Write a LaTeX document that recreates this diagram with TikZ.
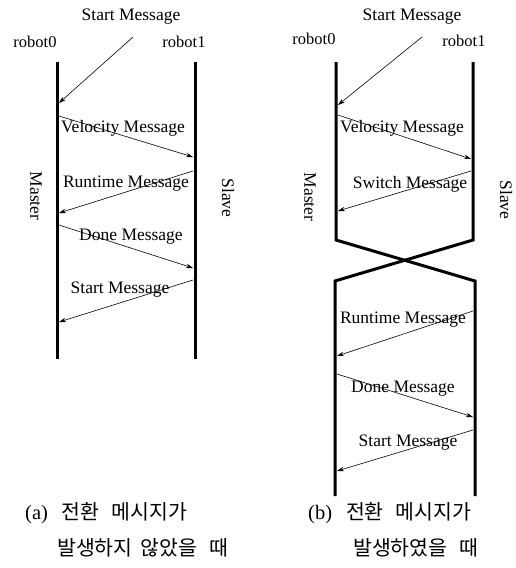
\documentclass[tikz,border=0pt]{standalone}
\usepackage{fontspec}
\setmainfont{Liberation Serif}
\newfontfamily\kr{Noto Sans CJK KR}
\usetikzlibrary{arrows.meta}
\begin{document}
\begin{tikzpicture}[x=1pt,y=-1pt,
  life/.style={line width=3pt, line join=miter},
  msg/.style={line width=0.6pt, -{Stealth[length=7pt,width=4.5pt]}},
  lbl/.style={font=\fontsize{17.5}{17.5}\selectfont, inner sep=0pt},
  small/.style={font=\fontsize{16.5}{16.5}\selectfont, inner sep=0pt},
  side/.style={lbl, rotate=-90},
  captxt/.style={font=\fontsize{20.5}{20.5}\selectfont, anchor=west, inner sep=0pt}]
\useasboundingbox (0,0) rectangle (515,568);

% ---------- (a) ----------
\coordinate (a0t) at (57,62);  \coordinate (a0b) at (57,359);
\coordinate (a1t) at (195,62); \coordinate (a1b) at (195,359);
\draw[life] (a0t) -- (a0b);
\draw[life] (a1t) -- (a1b);

\node[lbl] (aStartTop) at (131,17) {Start Message};
\node[small] (ar0) at (35,42) {robot0};
\node[small] (ar1) at (184,42) {robot1};
\node[side] (aMaster) at (36,196) {Master};
\node[side] (aSlave) at (228,198) {Slave};

\coordinate (aS0) at (133,37);
\coordinate (aS1) at (59,103);
\coordinate (aV0) at (59,116);  \coordinate (aV1) at (193,157);
\coordinate (aR0) at (193,171); \coordinate (aR1) at (59,213);
\coordinate (aD0) at (59,225);  \coordinate (aD1) at (193,268);
\coordinate (aT0) at (193,280); \coordinate (aT1) at (59,322);
\draw[msg] (aS0) -- (aS1);
\draw[msg] (aV0) -- (aV1);
\draw[msg] (aR0) -- (aR1);
\draw[msg] (aD0) -- (aD1);
\draw[msg] (aT0) -- (aT1);

\node[lbl] (aVel) at (123,128) {Velocity Message};
\node[lbl] (aRun) at (126,184) {Runtime Message};
\node[lbl] (aDone) at (131,237) {Done Message};
\node[lbl] (aStart) at (120,290) {Start Message};

% ---------- (b) ----------
\coordinate (b0t) at (336,62);  \coordinate (b0m) at (336,240);
\coordinate (b0x) at (475,281); \coordinate (b0b) at (475,496);
\coordinate (b1t) at (473,62);  \coordinate (b1m) at (473,240);
\coordinate (b1x) at (335,281); \coordinate (b1b) at (335,496);
\draw[life] (b0t) -- (b0m) -- (b0x) -- (b0b);
\draw[life] (b1t) -- (b1m) -- (b1x) -- (b1b);

\node[lbl] (bStartTop) at (412,17) {Start Message};
\node[small] (br0) at (314,39) {robot0};
\node[small] (br1) at (464,41) {robot1};
\node[side] (bMaster) at (310,197) {Master};
\node[side] (bSlave) at (506,200) {Slave};

\coordinate (bS0) at (422,37);  \coordinate (bS1) at (338,105);
\coordinate (bV0) at (338,115); \coordinate (bV1) at (471,159);
\coordinate (bW0) at (471,171); \coordinate (bW1) at (338,211);
\coordinate (bR0) at (473,311); \coordinate (bR1) at (337,356);
\coordinate (bD0) at (337,374); \coordinate (bD1) at (473,417);
\coordinate (bT0) at (473,430); \coordinate (bT1) at (337,471);
\draw[msg] (bS0) -- (bS1);
\draw[msg] (bV0) -- (bV1);
\draw[msg] (bW0) -- (bW1);
\draw[msg] (bR0) -- (bR1);
\draw[msg] (bD0) -- (bD1);
\draw[msg] (bT0) -- (bT1);

\node[lbl] (bVel) at (402,128) {Velocity Message};
\node[lbl] (bSw) at (410,184) {Switch Message};
\node[lbl] (bRun) at (403,320) {Runtime Message};
\node[lbl] (bDone) at (403,389) {Done Message};
\node[lbl] (bStart) at (408,443) {Start Message};

% ---------- captions ----------
\node[captxt] (capa1) at (25,513) {(a)\hspace{14pt}{\kr 전환}\hspace{12pt}{\kr 메시지가}};
\node[captxt] (capa2) at (57,548) {\kr 발생하지\hspace{8pt}않았을\hspace{12pt}때};
\node[captxt] (capb1) at (308,513) {(b)\hspace{14pt}{\kr 전환}\hspace{12pt}{\kr 메시지가}};
\node[captxt] (capb2) at (353,548) {\kr 발생하였을\hspace{12pt}때};
\end{tikzpicture}
\end{document}
